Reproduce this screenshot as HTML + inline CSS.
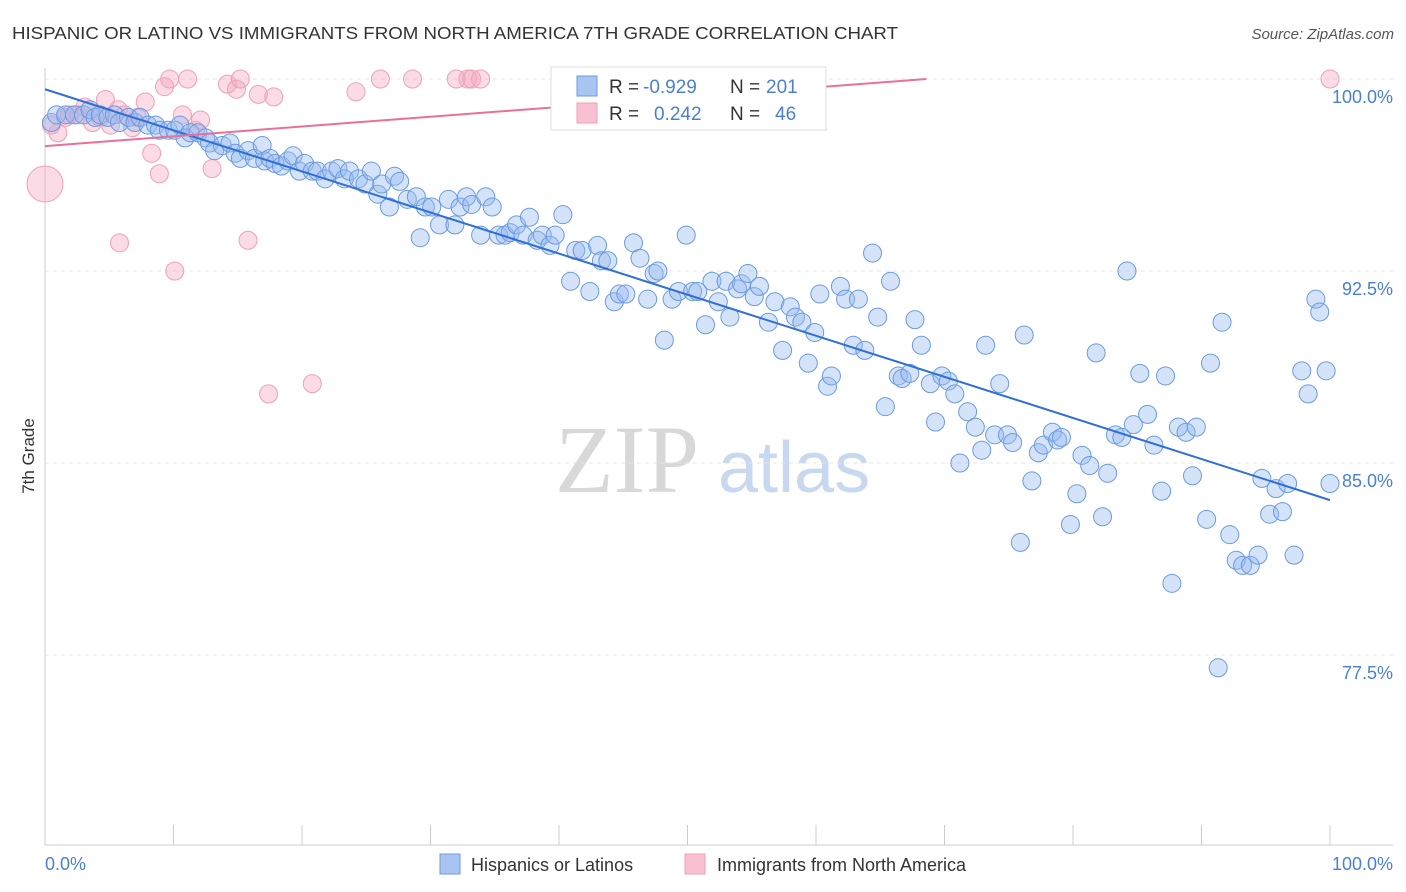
<!DOCTYPE html>
<html><head><meta charset="utf-8">
<style>
body{margin:0;background:#fff;font-family:"Liberation Sans",sans-serif;}
#wrap{position:relative;width:1406px;height:892px;overflow:hidden;}
</style></head>
<body>
<div id="wrap">
<svg id="svg" width="1406" height="892" xmlns="http://www.w3.org/2000/svg">
<text x="12" y="39" font-size="17.5" fill="#333" textLength="886" lengthAdjust="spacingAndGlyphs">HISPANIC OR LATINO VS IMMIGRANTS FROM NORTH AMERICA 7TH GRADE CORRELATION CHART</text>
<text x="1394" y="39" font-size="15" fill="#555" font-style="italic" text-anchor="end">Source: ZipAtlas.com</text>
<text x="555" y="492" font-size="96" fill="#d8d8d8" font-family="Liberation Serif, serif">ZIP</text>
<text x="718" y="492" font-size="72" fill="#c8d8f0">atlas</text>
<g id="grid"></g>
<g id="axes"></g>
<g id="pinkpts"></g>
<g id="bluepts"></g>
<g id="lines"></g>
<text x="34" y="456" font-size="17" fill="#333" text-anchor="middle" transform="rotate(-90 34 456)">7th Grade</text>
<text x="45" y="870" font-size="18" fill="#4a7fd8">0.0%</text>
<text x="1393" y="870" font-size="18" fill="#4a7fd8" text-anchor="end">100.0%</text>
<g>
<rect x="551" y="67" width="275" height="63" fill="#fff" stroke="#ddd"/>
<rect x="577" y="76" width="20" height="20" fill="#a8c4f0" stroke="#6a9be0"/>
<rect x="577" y="103" width="20" height="20" fill="#f8c0d0" stroke="#f0a0b8"/>
<text x="609" y="93" font-size="19" fill="#333">R =</text>
<text x="643" y="93" font-size="19" fill="#4a7fd8">-0.929</text>
<text x="730" y="93" font-size="19" fill="#333">N =</text>
<text x="766" y="93" font-size="19" fill="#4a7fd8">201</text>
<text x="609" y="120" font-size="19" fill="#333">R =</text>
<text x="654" y="120" font-size="19" fill="#4a7fd8">0.242</text>
<text x="730" y="120" font-size="19" fill="#333">N =</text>
<text x="775" y="120" font-size="19" fill="#4a7fd8">46</text>
</g>
<g>
<rect x="440" y="854" width="20" height="20" fill="#a8c4f0" stroke="#6a9be0"/>
<text x="471" y="871" font-size="18" fill="#333">Hispanics or Latinos</text>
<rect x="685" y="854" width="20" height="20" fill="#f8c0d0" stroke="#f0a0b8"/>
<text x="717" y="871" font-size="18" fill="#333">Immigrants from North America</text>
</g>
</svg>
</div>
<script>
const yTicks=[100,92.5,85,77.5];
const yTickLabels=["100.0%","92.5%","85.0%","77.5%"];
const blueX=[0.5,0.9,1.6,2.3,3.0,3.5,3.9,4.3,4.9,5.4,5.8,6.5,7.0,7.4,8.0,8.6,8.9,9.6,10.1,10.5,10.9,11.3,11.9,12.5,12.8,13.2,13.8,14.4,14.8,15.2,15.8,16.3,16.9,17.1,17.5,17.9,18.4,18.9,19.3,19.8,20.2,20.8,21.2,21.8,22.3,22.8,23.3,23.7,24.4,24.9,25.4,25.9,26.2,26.8,27.2,27.6,28.2,28.9,29.2,29.6,30.1,30.7,31.4,31.9,32.3,32.8,33.2,33.9,34.3,34.8,35.3,35.8,36.2,36.7,37.2,37.7,38.3,38.7,39.3,39.7,40.3,40.9,41.3,41.8,42.4,43.0,43.3,43.8,44.3,44.7,45.2,45.8,46.3,46.9,47.4,47.7,48.2,48.8,49.3,49.9,50.4,50.8,51.4,51.9,52.4,53.0,53.3,53.9,54.2,54.7,55.2,55.6,56.3,56.8,57.4,58.0,58.4,58.9,59.4,59.9,60.3,60.9,61.2,61.9,62.3,62.9,63.3,63.8,64.4,64.8,65.4,65.8,66.4,66.7,67.3,67.7,68.2,68.9,69.3,69.8,70.3,70.8,71.2,71.8,72.4,72.9,73.2,73.9,74.3,74.9,75.3,75.9,76.2,76.8,77.3,77.7,78.4,78.8,79.1,79.8,80.3,80.7,81.3,81.8,82.3,82.7,83.3,83.8,84.2,84.7,85.2,85.8,86.3,86.9,87.2,87.7,88.2,88.8,89.3,89.6,90.4,90.7,91.6,92.2,92.7,93.2,93.8,94.4,94.7,95.3,95.8,96.3,96.7,97.2,97.8,98.3,98.9,99.2,99.7,100.0,91.3];
const blueY=[98.3,98.6,98.6,98.6,98.6,98.8,98.5,98.6,98.5,98.6,98.3,98.5,98.3,98.5,98.2,98.2,98.0,98.0,98.0,98.2,97.7,97.9,97.9,97.7,97.5,97.2,97.4,97.5,97.1,96.9,97.2,96.9,97.4,96.8,96.9,96.7,96.6,96.8,97.0,96.4,96.7,96.4,96.4,96.1,96.4,96.5,96.1,96.4,96.1,95.9,96.4,95.5,95.9,95.0,96.2,96.0,95.3,95.4,93.8,95.0,95.0,94.3,95.3,94.3,95.0,95.4,95.1,93.9,95.4,95.0,93.9,93.9,94.0,94.3,93.9,94.6,93.7,93.9,93.5,93.9,94.7,92.1,93.3,93.3,91.7,93.5,92.9,92.9,91.3,91.6,91.6,93.6,93.0,91.4,92.4,92.5,89.8,91.4,91.7,93.9,91.7,91.7,90.4,92.1,91.3,92.1,90.7,91.8,92.0,92.4,91.5,91.9,90.5,91.3,89.4,91.1,90.7,90.5,88.9,90.1,91.6,88.0,88.4,91.9,91.4,89.6,91.4,89.4,93.2,90.7,87.2,92.1,88.4,88.3,88.5,90.6,89.6,88.1,86.6,88.4,88.2,87.7,85.0,87.0,86.4,85.5,89.6,86.1,88.1,86.1,85.8,81.9,90.0,84.3,85.4,85.7,86.2,85.9,86.0,82.6,83.8,85.3,84.9,89.3,82.9,84.6,86.1,86.0,92.5,86.5,88.5,86.9,85.7,83.9,88.4,80.3,86.4,86.2,84.5,86.4,82.8,88.9,90.5,82.2,81.2,81.0,81.0,81.4,84.4,83.0,84.0,83.1,84.2,81.4,88.6,87.7,91.4,90.9,88.6,84.2,77.0];
const pinkX=[0.5,1.0,1.6,1.9,2.6,3.1,3.7,4.3,4.7,5.1,5.7,6.2,6.8,7.2,7.8,8.3,8.9,9.3,9.7,10.1,10.7,11.1,11.7,12.1,13.0,5.8,14.2,14.9,15.2,15.8,16.6,17.4,17.8,20.8,24.2,26.1,28.6,32.0,32.9,33.2,33.9,40.1,47.1,100.0,0];
const pinkY=[98.2,97.9,98.5,98.6,98.6,98.9,98.3,98.5,99.2,98.2,98.8,98.6,98.1,98.5,99.1,97.1,96.3,99.7,100.0,92.5,98.6,100.0,98.0,98.4,96.5,93.6,99.8,99.6,100.0,93.7,99.4,87.7,99.3,88.1,99.5,100.0,100.0,100.0,100.0,100.0,100.0,100.0,100.0,100.0,95.9];
const pinkR=[9,9,9,9,9,9,9,9,9,9,9,9,9,9,9,9,9,9,9,9,9,9,9,9,9,9,9,9,9,9,9,9,9,9,9,9,9,9,9,9,9,9,9,9,18];
const blueLine=[99.6,83.55];
const pinkLine=[97.38,101.2];
const NS="http://www.w3.org/2000/svg";
const xs=v=>45+v*12.85;
const ys=v=>79+(100-v)*25.6;
function mk(tag,attrs,parent){const e=document.createElementNS(NS,tag);for(const k in attrs)e.setAttribute(k,attrs[k]);parent.appendChild(e);return e;}
const grid=document.getElementById('grid'),axes=document.getElementById('axes');
yTicks.forEach((t,i)=>{
 const l=mk('line',{x1:45,x2:1393,y1:ys(t),y2:ys(t),stroke:'#e4e4e4','stroke-dasharray':'4,4'},grid);
 
 
 const tx=mk('text',{x:1393,y:ys(t)+24,'font-size':18,fill:'#4a7fd8','text-anchor':'end'},grid);
 tx.textContent=yTickLabels[i];
 
 
});
const ax=mk('line',{x1:45,x2:1393,y1:845,y2:845,stroke:'#ccc'},axes);


const ay=mk('line',{x1:45,x2:45,y1:68,y2:845,stroke:'#ccc'},axes);


for(let k=0;k<=10;k++){
 const t=mk('line',{x1:xs(k*10),x2:xs(k*10),y1:825,y2:845,stroke:'#ccc'},axes);
 
 
}
const pg=document.getElementById('pinkpts');
pinkX.forEach((x,i)=>{
 const c=mk('circle',{cx:xs(x),cy:ys(pinkY[i]),r:pinkR[i],fill:'rgba(245,165,190,0.4)',stroke:'#f0a0b8','stroke-width':1},pg);
 
 
});
const bg=document.getElementById('bluepts');
blueX.forEach((x,i)=>{
 const c=mk('circle',{cx:xs(x),cy:ys(blueY[i]),r:9,fill:'rgba(150,185,240,0.4)',stroke:'#6a9be0','stroke-width':1},bg);
 
 
});
const lg=document.getElementById('lines');
const bl=mk('line',{x1:xs(0),y1:ys(blueLine[0]),x2:xs(100),y2:ys(blueLine[1]),stroke:'#2f6fd6','stroke-width':2},lg);


const xEnd=(100-pinkLine[0])/(pinkLine[1]-pinkLine[0])*100;
const pl=mk('line',{x1:xs(0),y1:ys(pinkLine[0]),x2:xs(xEnd),y2:ys(100),stroke:'#e8709a','stroke-width':2},lg);


</script>
</body></html>
